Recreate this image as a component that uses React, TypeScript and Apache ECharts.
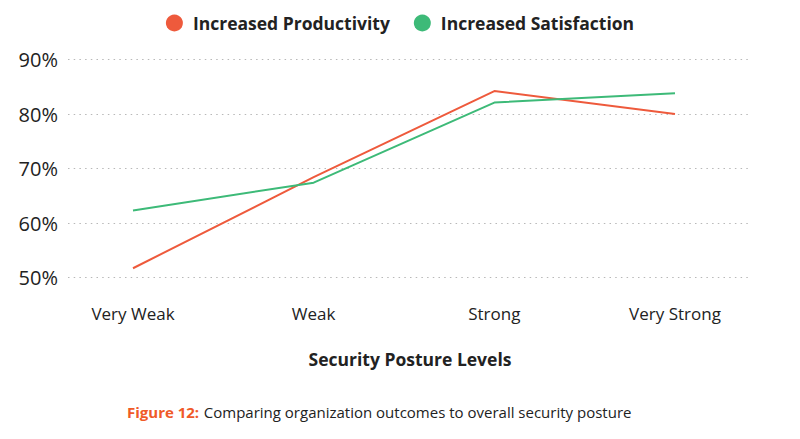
import React, { useEffect, useRef } from 'react';
import * as echarts from 'echarts';

const postureLevels = ['Very Weak', 'Weak', 'Strong', 'Very Strong'];
const productivity = [51.7, 68.4, 84.2, 80.0];
const satisfaction = [62.3, 67.4, 82.1, 83.8];
const yTicks = { min: 50, max: 90, interval: 10 };

const RED = '#ee5a3c';
const GREEN = '#3dba78';
const TEXT = '#222222';
const FONT = '"Open Sans", Lato, sans-serif';

const App: React.FC = () => {
    const chartRef = useRef<HTMLDivElement>(null);

    useEffect(() => {
        if (!chartRef.current) return;
        const chart = echarts.init(chartRef.current, undefined, { renderer: 'svg' });

        const option: echarts.EChartsOption = {
            animation: false,
            backgroundColor: '#ffffff',
            textStyle: { fontFamily: FONT, color: TEXT },
            title: {
                text: '{hl|Figure 12:} {rest|Comparing organization outcomes to overall security posture}',
                left: 122,
                top: 398,
                textStyle: {
                    fontWeight: 'normal',
                    rich: {
                        hl: { color: '#f05a28', fontWeight: 'bold', fontSize: 15, fontFamily: FONT },
                        rest: { color: TEXT, fontWeight: 'normal', fontSize: 15, fontFamily: FONT }
                    }
                }
            },
            legend: {
                top: 9,
                left: 'center',
                icon: 'circle',
                itemWidth: 17,
                itemHeight: 17,
                itemGap: 24,
                textStyle: {
                    fontSize: 17.5, fontWeight: 'bold', color: TEXT, fontFamily: FONT,
                    padding: [0, 0, 0, 5]
                },
                data: ['Increased Productivity', 'Increased Satisfaction']
            },
            grid: [
                { left: 68, right: 50, top: 59.5, bottom: 161.5 },
                { left: 133, right: 125, top: 59.5, bottom: 161.5 }
            ],
            xAxis: [
                { type: 'category', gridIndex: 0, data: postureLevels, show: false },
                {
                    type: 'category',
                    gridIndex: 1,
                    data: postureLevels,
                    boundaryGap: false,
                    axisLine: { show: false },
                    axisTick: { show: false },
                    axisLabel: { margin: 27, fontSize: 17, color: TEXT, fontFamily: FONT },
                    name: 'Security Posture Levels',
                    nameLocation: 'middle',
                    nameGap: 72,
                    nameTextStyle: {
                        fontSize: 17.5, fontWeight: 'bold', color: TEXT, fontFamily: FONT,
                        padding: [0, 0, 0, 12]
                    }
                }
            ],
            yAxis: [
                {
                    type: 'value',
                    gridIndex: 0,
                    min: yTicks.min,
                    max: yTicks.max,
                    interval: yTicks.interval,
                    axisLine: { show: false },
                    axisTick: { show: false },
                    axisLabel: {
                        margin: 10,
                        fontSize: 20,
                        color: TEXT,
                        fontFamily: FONT,
                        formatter: '{value}%'
                    },
                    splitLine: {
                        lineStyle: { color: '#b8b8b8', type: [1.5, 4.2], width: 1.2 }
                    }
                },
                {
                    type: 'value',
                    gridIndex: 1,
                    min: yTicks.min,
                    max: yTicks.max,
                    interval: yTicks.interval,
                    show: false,
                    splitLine: { show: false }
                }
            ],
            series: [
                {
                    name: 'Increased Productivity',
                    type: 'line',
                    xAxisIndex: 1,
                    yAxisIndex: 1,
                    data: productivity,
                    showSymbol: false,
                    symbol: 'circle',
                    itemStyle: { color: RED },
                    lineStyle: { color: RED, width: 2 }
                },
                {
                    name: 'Increased Satisfaction',
                    type: 'line',
                    xAxisIndex: 1,
                    yAxisIndex: 1,
                    data: satisfaction,
                    showSymbol: false,
                    symbol: 'circle',
                    itemStyle: { color: GREEN },
                    lineStyle: { color: GREEN, width: 2 }
                }
            ]
        };

        chart.setOption(option);

        const handleResize = () => chart.resize();
        window.addEventListener('resize', handleResize);
        return () => {
            window.removeEventListener('resize', handleResize);
            chart.dispose();
        };
    }, []);

    return (
        <div
            ref={chartRef}
            style={{ position: 'fixed', left: 0, top: 0, width: '800px', height: '439px' }}
        />
    );
};

export default App;
